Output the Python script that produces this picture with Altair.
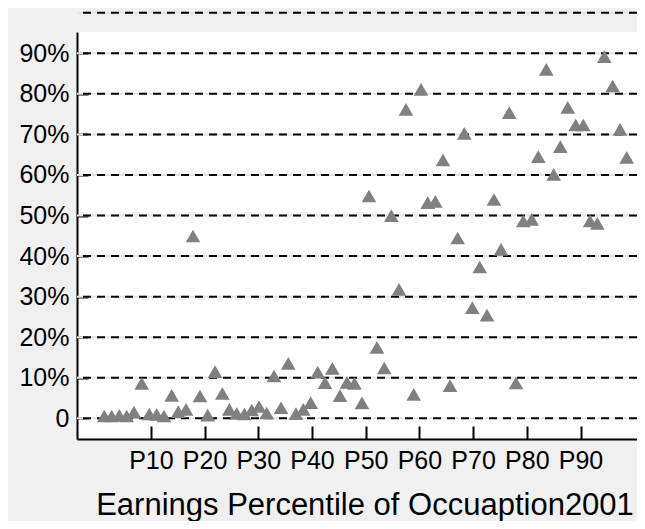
import altair as alt
import pandas as pd

# Earnings percentile of occupation (x) and share (%) (y)
pct = [1.32, 2.70, 4.12, 5.49, 6.85, 8.29, 9.70, 11.08, 12.44, 13.87, 15.10, 16.54,
       17.84, 19.14, 20.58, 21.94, 23.30, 24.60, 25.98, 27.39, 28.77, 30.13, 31.56,
       32.92, 34.23, 35.59, 37.02, 38.38, 39.76, 41.06, 42.42, 43.78, 45.21, 46.52,
       47.91, 49.31, 50.61, 52.10, 53.46, 54.77, 56.20, 57.50, 58.94, 60.30, 61.55,
       62.96, 64.39, 65.70, 67.13, 68.36, 69.85, 71.23, 72.59, 73.89, 75.20, 76.74,
       77.99, 79.35, 80.91, 82.14, 83.63, 85.01, 86.24, 87.62, 89.11, 90.52, 91.77,
       93.13, 94.43, 95.99, 97.36, 98.60]
share = [0.57, 0.57, 0.74, 0.57, 1.55, 8.63, 1.06, 0.99, 0.57, 5.67, 1.63, 2.22,
         44.95, 5.50, 0.81, 11.49, 6.16, 2.22, 1.23, 1.06, 2.05, 2.91, 1.31,
         10.43, 2.61, 13.56, 1.18, 2.22, 3.85, 11.37, 8.78, 12.33, 5.57, 8.88,
         8.63, 3.82, 54.81, 17.50, 12.40, 49.95, 31.80, 76.18, 5.92, 81.11, 53.16,
         53.50, 63.68, 8.04, 44.45, 70.27, 27.27, 37.30, 25.42, 53.94, 41.67, 75.35,
         8.70, 48.64, 49.06, 64.50, 86.05, 60.16, 66.96, 76.68, 72.31, 72.31, 48.64,
         48.08, 89.15, 81.93, 71.25, 64.35]

x_ticks = [10, 20, 30, 40, 50, 60, 70, 80, 90]
y_ticks = [0, 10, 20, 30, 40, 50, 60, 70, 80, 90]
grid_levels = [0, 10, 20, 30, 40, 50, 60, 70, 80, 90, 100]
x_title = "Earnings Percentile of Occuaption2001"

df = pd.DataFrame({"pct": pct, "share": share})
grid_df = pd.DataFrame({"level": grid_levels})

FONT = "Liberation Sans"
xs = alt.Scale(domain=[-3.76, 100.52], nice=False, zero=False)
ys = alt.Scale(domain=[-5.1, 95.24], nice=False, zero=False)

grid_under = alt.Chart(grid_df).mark_rule(color="#e4e4e4", strokeWidth=2).encode(
    y=alt.Y("level:Q", scale=ys, axis=None)
)
grid_dash = alt.Chart(grid_df).mark_rule(color="black", strokeWidth=2, strokeDash=[8, 6]).encode(
    y=alt.Y("level:Q", scale=ys, axis=None)
)

tick_layer = alt.Chart(df).mark_point(opacity=0).encode(
    x=alt.X("pct:Q", scale=xs,
            axis=alt.Axis(orient="bottom", offset=-13, values=x_ticks, ticks=True,
                          tickSize=13, tickWidth=2, tickColor="black", domain=False,
                          labels=False, title=None, grid=False)),
    y=alt.Y("share:Q", scale=ys,
            axis=alt.Axis(orient="left", offset=-11, values=y_ticks, ticks=True,
                          tickSize=11, tickWidth=2, tickColor="black", domain=False,
                          labels=False, title=None, grid=False)),
)

points = alt.Chart(df).mark_point(
    shape="triangle-up", filled=True, size=215, color="#808080", opacity=1
).encode(
    x=alt.X("pct:Q", scale=xs,
            axis=alt.Axis(orient="bottom", values=x_ticks, labelExpr="'P' + datum.value",
                          ticks=False, tickSize=0, domain=True, domainColor="black",
                          domainWidth=2, labelPadding=9, labelFontSize=25,
                          labelOverlap=False, labelFlush=False,
                          title=x_title, titleFontSize=31, titleX=287.5, titleY=75,
                          titleBaseline="alphabetic", titleAlign="center", grid=False)),
    y=alt.Y("share:Q", scale=ys,
            axis=alt.Axis(orient="left", values=y_ticks,
                          labelExpr="datum.value === 0 ? '0' : datum.value + '%'",
                          ticks=False, tickSize=0, domain=True, domainColor="black",
                          domainWidth=2, labelPadding=8, labelFontSize=25,
                          labelOverlap=False, title=None, grid=False)),
)

chart = alt.layer(grid_under, grid_dash, tick_layer, points).resolve_axis(
    x="independent", y="independent"
).properties(
    width=560, height=407, autosize="none",
    padding={"left": 69, "top": 24, "right": 0, "bottom": 82},
    background="#f0f0f0",
).configure_view(
    fill="white", strokeWidth=0
).configure_axis(
    labelFont=FONT, titleFont=FONT, labelColor="black", titleColor="black",
    titleFontWeight="normal"
)

chart.save("out.html", embed_options={"renderer": "svg", "actions": False})
